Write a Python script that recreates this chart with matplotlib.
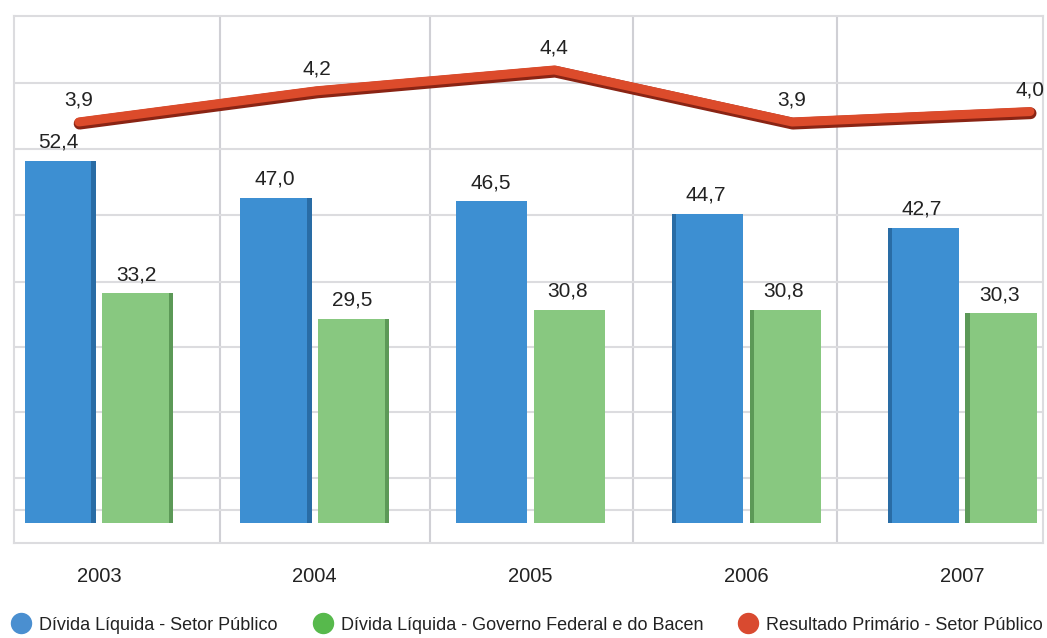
import numpy as np
import matplotlib
matplotlib.use("Agg")
import matplotlib.pyplot as plt
import matplotlib.patheffects as pe
from matplotlib.lines import Line2D
from matplotlib.patches import Rectangle

plt.rcParams['font.family'] = ['Liberation Sans', 'DejaVu Sans']

# --- data ---
years = ['2003', '2004', '2005', '2006', '2007']
divida_setor_publico = [52.4, 47.0, 46.5, 44.7, 42.7]
divida_governo_bacen = [33.2, 29.5, 30.8, 30.8, 30.3]
resultado_primario = [3.9, 4.2, 4.4, 3.9, 4.0]

labels = ['Dívida Líquida - Setor Público',
          'Dívida Líquida - Governo Federal e do Bacen',
          'Resultado Primário - Setor Público']

BLUE = '#3d8fd2'
BLUE_DARK = '#1c5588'
GREEN = '#88c880'
GREEN_DARK = '#3f7a3c'
RED = '#dc4b2b'
RED_DARK = '#8a2414'
LEGEND_COLORS = ['#4a8fd0', '#57b94c', '#d94a30']
GRID = '#dcdcdf'
TEXT = '#222222'

W, H = 1047, 638
fig = plt.figure(figsize=(W / 100, H / 100), dpi=100)
rect = [14 / W, (H - 543) / H, (1043 - 14) / W, (543 - 16) / H]

ax = fig.add_axes(rect)
x = np.arange(len(years))
bw = 0.33
off = 0.18

bars1 = ax.bar(x - off, divida_setor_publico, bw, color=BLUE, zorder=3)
bars2 = ax.bar(x + off, divida_governo_bacen, bw, color=GREEN, zorder=3)

# side faces to fake the 3D look
side = 0.02
for bars, dark in ((bars1, BLUE_DARK), (bars2, GREEN_DARK)):
    for b in bars:
        cx = b.get_x() + b.get_width() / 2
        if abs(cx - 2) < 0.5:
            continue
        sx = b.get_x() + b.get_width() - side if cx < 2 else b.get_x()
        ax.add_patch(Rectangle((sx, 0), side, b.get_height(), color=dark,
                               alpha=0.6, zorder=4, lw=0))

for bars, vals in ((bars1, divida_setor_publico), (bars2, divida_governo_bacen)):
    for b, v in zip(bars, vals):
        ax.annotate(f'{v:.1f}'.replace('.', ','),
                    (b.get_x() + b.get_width() / 2, b.get_height()),
                    xytext=(-1, 13.5), textcoords='offset points',
                    ha='center', va='center', fontsize=15, color=TEXT, zorder=6)

ax.set_xlim(-0.394, 4.375)
ax.set_ylim(-2.9, 73.3)
ax.set_xticks(x)
ax.set_xticklabels(years, fontsize=14.5, color=TEXT)
ax.set_xticks([0.561, 1.534, 2.475, 3.42], minor=True)
ax.set_yticks([1.9, 6.5, 16.0, 25.4, 34.8, 44.5, 54.0, 63.6])
ax.set_yticklabels([])
ax.tick_params(axis='both', which='both', length=0)
ax.tick_params(axis='x', pad=17)
ax.grid(axis='y', color=GRID, lw=1.5, zorder=0)
ax.grid(axis='x', which='minor', color='#d0d0d5', lw=1.5, zorder=0)
for s in ax.spines.values():
    s.set_color(GRID)
    s.set_linewidth(1.5)

# line on its own overlay axes (wider horizontal spread than the bars)
ax2 = fig.add_axes(rect)
ax2.patch.set_visible(False)
ax2.set_xlim(-0.273, 4.055)
ax2.set_ylim(-0.148, 4.919)
ax2.axis('off')
ax2.plot(x, resultado_primario, color=RED, lw=6.5, solid_capstyle='round',
         solid_joinstyle='round', zorder=5,
         path_effects=[pe.Stroke(linewidth=8.5, foreground=RED_DARK, offset=(0.5, -1.2)),
                       pe.Normal()])
for xi, v in zip(x, resultado_primario):
    ax2.annotate(f'{v:.1f}'.replace('.', ','), (xi, v), xytext=(0, 15.5),
                 textcoords='offset points', ha='center', va='center',
                 fontsize=15, color=TEXT)

handles = [Line2D([], [], ls='', marker='o', markersize=14.4, color=c) for c in LEGEND_COLORS]
fig.legend(handles, labels, loc='center left', bbox_to_anchor=(12 / W, 1 - 625 / H),
           ncol=3, frameon=False, fontsize=13, handlelength=1.0, handletextpad=0.5,
           columnspacing=2.0, borderpad=0, borderaxespad=0, labelcolor=TEXT)

fig.savefig('out.png', dpi=100, facecolor='white')
